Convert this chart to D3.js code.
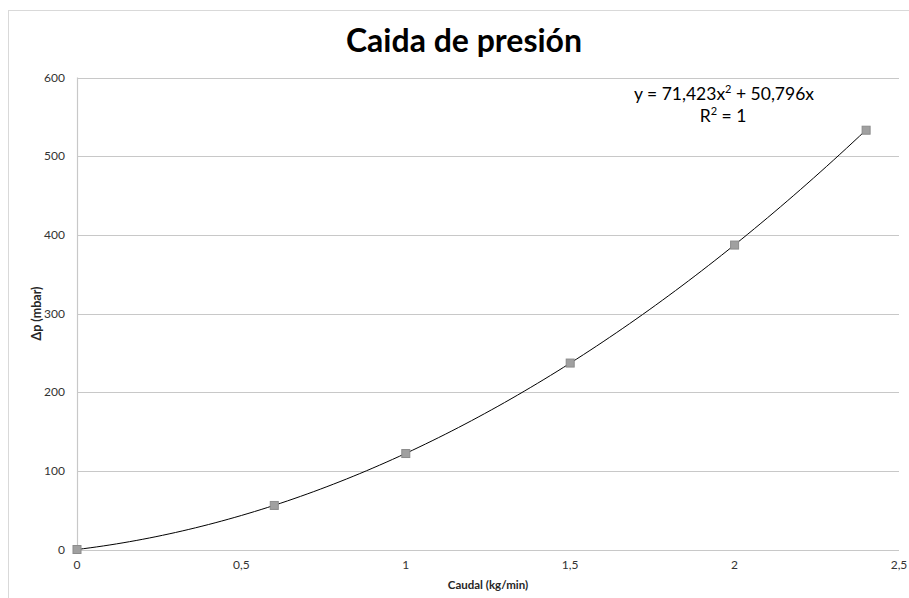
<!DOCTYPE html>
<html>
<head>
	<meta charset="utf-8">
	<script src="https://d3js.org/d3.v7.min.js"></script>
	<style>
		body { margin: 0; background: #fff; }
		text { font-family: Lato, "Open Sans", sans-serif; }
	</style>
</head>
<body>
	<svg id="chart" width="909" height="598"></svg>
	<script>

	// measured points
	const caudal = [0, 0.6, 1, 1.5, 2, 2.4];
	const presion = [0, 56, 122, 237, 387, 533];

	// trendline coefficients (a*x^2 + b*x), as printed on the chart
	const coef = [71.423, 50.796];
	const xTicks = [0, 0.5, 1, 1.5, 2, 2.5];
	const yTicks = [0, 100, 200, 300, 400, 500, 600];

	const svg = d3.select("#chart");
	const fmt = d => String(d).replace(".", ",");

	// chart border
	svg.append("rect")
	    .attr("x", 8.5).attr("y", 10.5)
	    .attr("width", 920).attr("height", 620)
	    .attr("fill", "none")
	    .attr("stroke", "#d9d9d9");

	const x = d3.scaleLinear().domain([0, 2.5]).range([77, 899]);
	const y = d3.scaleLinear().domain([0, 600]).range([549.5, 77.5]);

	// horizontal grid
	svg.append("g")
	    .selectAll("line")
	    .data(yTicks)
	    .join("line")
	        .attr("x1", x(0)).attr("x2", x(2.5))
	        .attr("y1", d => Math.round(y(d)) + 0.5)
	        .attr("y2", d => Math.round(y(d)) + 0.5)
	        .attr("stroke", "#c8c8c8")
	        .attr("stroke-width", 1.2)

	// vertical axis line
	svg.append("line")
	    .attr("x1", x(0) + 0.5).attr("x2", x(0) + 0.5)
	    .attr("y1", y(600)).attr("y2", y(0))
	    .attr("stroke", "#c8c8c8")
	    .attr("stroke-width", 1.2)

	// y tick labels
	svg.append("g")
	    .selectAll("text")
	    .data(yTicks)
	    .join("text")
	        .attr("x", 65).attr("y", d => y(d) + 4)
	        .attr("text-anchor", "end")
	        .attr("font-size", 12)
	        .attr("fill", "#333")
	        .text(d => d)

	// x tick labels
	svg.append("g")
	    .selectAll("text")
	    .data(xTicks)
	    .join("text")
	        .attr("x", d => x(d)).attr("y", 569)
	        .attr("text-anchor", "middle")
	        .attr("font-size", 12)
	        .attr("fill", "#333")
	        .text(fmt)

	// axis titles
	svg.append("text")
	    .attr("x", x(1.25)).attr("y", 589)
	    .attr("text-anchor", "middle")
	    .attr("font-size", 11.5)
	    .attr("font-weight", "bold")
	    .attr("fill", "#262626")
	    .text("Caudal (kg/min)")

	svg.append("text")
	    .attr("transform", "translate(41," + y(300) + ") rotate(-90)")
	    .attr("text-anchor", "middle")
	    .attr("font-size", 12.5)
	    .attr("font-weight", "bold")
	    .attr("fill", "#262626")
	    .text("Δp (mbar)")

	// title
	svg.append("text")
	    .attr("x", 464).attr("y", 52)
	    .attr("text-anchor", "middle")
	    .attr("font-size", 32)
	    .attr("font-weight", "bold")
	    .attr("fill", "#000")
	    .text("Caida de presión")

	// trendline
	const trend = d3.range(0, 2.4001, 0.02).map(v => [v, coef[0] * v * v + coef[1] * v]);
	svg.append("path")
	    .datum(trend)
	    .attr("d", d3.line().x(d => x(d[0])).y(d => y(d[1])))
	    .attr("fill", "none")
	    .attr("stroke", "#000")
	    .attr("stroke-width", 1)

	// markers
	svg.append("g")
	    .selectAll("rect")
	    .data(caudal.map((c, i) => [c, presion[i]]))
	    .join("rect")
	        .attr("x", d => x(d[0]) - 4).attr("y", d => y(d[1]) - 4)
	        .attr("width", 8).attr("height", 8)
	        .attr("fill", "#a0a0a0")
	        .attr("stroke", "#8c8c8c")
	        .attr("stroke-width", 1)

	// equation label
	const eq = svg.append("text")
	    .attr("x", 724).attr("y", 100)
	    .attr("text-anchor", "middle")
	    .attr("font-size", 17.5)
	    .attr("fill", "#000");
	eq.append("tspan").text("y = " + fmt(coef[0]) + "x");
	eq.append("tspan").attr("font-size", 11).attr("dy", -7).text("2");
	eq.append("tspan").attr("dy", 7).text(" + " + fmt(coef[1]) + "x");

	const r2 = svg.append("text")
	    .attr("x", 723).attr("y", 122)
	    .attr("text-anchor", "middle")
	    .attr("font-size", 17.5)
	    .attr("fill", "#000");
	r2.append("tspan").text("R");
	r2.append("tspan").attr("font-size", 11).attr("dy", -7).text("2");
	r2.append("tspan").attr("dy", 7).text(" = 1");

	</script>
</body>
</html>
